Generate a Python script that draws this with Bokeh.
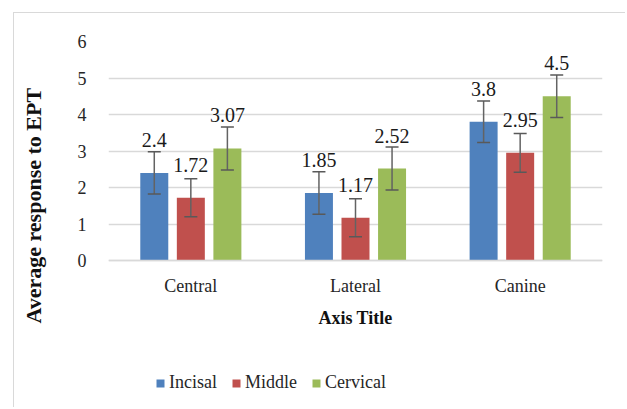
from bokeh.plotting import figure
from bokeh.models import (Range1d, FactorRange, ColumnDataSource, Whisker, Legend,
                          LegendItem, TeeHead, FixedTicker)
from bokeh.transform import dodge
from bokeh.core.properties import value
from bokeh.embed import file_html
from bokeh.resources import INLINE

# ---- data ----
categories = ["Central", "Lateral", "Canine"]
series_names = ["Incisal", "Middle", "Cervical"]
incisal = [2.4, 1.85, 3.8]
middle = [1.72, 1.17, 2.95]
cervical = [3.07, 2.52, 4.5]
incisal_err = [0.58, 0.58, 0.57]
middle_err = [0.52, 0.52, 0.53]
cervical_err = [0.59, 0.59, 0.58]
y_ticks = [0, 1, 2, 3, 4, 5, 6]
y_title = "Average response to EPT"
x_title = "Axis Title"

colors = ["#4F81BD", "#C0504D", "#9BBB59"]
offsets = [-0.222, 0.0, 0.222]
bar_width = 0.17
FONT = "Liberation Serif"

W, H = 612, 395
TOP, PLOT_H = 28, 219          # pixel height of the 0..6 value band
y_max = y_ticks[-1]
below_px = H - TOP - PLOT_H    # room under the value axis for labels and legend
y_min = -y_max * below_px / PLOT_H

p = figure(width=W, height=H, x_range=FactorRange(*categories), y_range=Range1d(y_min, y_max),
           output_backend="svg", toolbar_location=None,
           min_border_left=94, min_border_right=24, min_border_top=TOP, min_border_bottom=0)
p.margin = (12, 0, 0, 13)
p.styles = {"border-left": "1px solid #D9D9D9", "border-top": "1px solid #D9D9D9"}
p.outline_line_color = None
p.background_fill_color = "white"
p.border_fill_color = "white"

series = [(incisal, incisal_err), (middle, middle_err), (cervical, cervical_err)]
items = []
for name, (vals, errs), col, off in zip(series_names, series, colors, offsets):
    src = ColumnDataSource(dict(
        cat=categories, val=vals,
        upper=[v + e for v, e in zip(vals, errs)],
        lower=[v - e for v, e in zip(vals, errs)],
        label=[str(v) for v in vals]))
    r = p.vbar(x=dodge("cat", off, range=p.x_range), top="val", bottom=0, width=bar_width,
               source=src, fill_color=col, line_color=None)
    items.append(LegendItem(label=name, renderers=[r]))
    w = Whisker(base=dodge("cat", off, range=p.x_range), upper="upper", lower="lower",
                source=src, line_color="#636363", line_width=1.5,
                upper_head=TeeHead(size=13, line_color="#595959", line_width=1.5),
                lower_head=TeeHead(size=13, line_color="#595959", line_width=1.5))
    w.level = "annotation"
    p.add_layout(w)
    p.text(x=dodge("cat", off, range=p.x_range), y="val", text="label", source=src,
           text_font=value(FONT), text_font_size="20px", text_color="#1a1a1a",
           text_align="center", text_baseline="alphabetic", y_offset=-33)

# axes
p.yaxis.ticker = FixedTicker(ticks=y_ticks)
p.yaxis.axis_line_color = None
p.yaxis.major_tick_line_color = None
p.yaxis.minor_tick_line_color = None
p.yaxis.major_label_standoff = 16
p.yaxis.major_label_text_font = FONT
p.yaxis.major_label_text_font_size = "18px"
p.yaxis.major_label_text_color = "#262626"
# leading no-break spaces nudge the centred title up, as in the reference
p.yaxis.axis_label = "\u00a0" * 7 + y_title
p.yaxis.axis_label_text_font = FONT
p.yaxis.axis_label_text_font_style = "bold"
p.yaxis.axis_label_text_font_size = "22px"
p.yaxis.axis_label_text_color = "#111111"
p.yaxis.axis_label_standoff = 29

p.xaxis.fixed_location = 0
p.xaxis.axis_line_color = "#D9D9D9"
p.xaxis.axis_line_width = 1.5
p.xaxis.major_tick_line_color = None
p.xaxis.minor_tick_line_color = None
p.xaxis.major_label_standoff = 9
p.xaxis.major_label_text_font = FONT
p.xaxis.major_label_text_font_size = "18px"
p.xaxis.major_label_text_color = "#262626"
p.xaxis.axis_label = x_title
p.xaxis.axis_label_text_font = FONT
p.xaxis.axis_label_text_font_style = "bold"
p.xaxis.axis_label_text_font_size = "18px"
p.xaxis.axis_label_text_color = "#111111"
p.xaxis.axis_label_standoff = 9

p.xgrid.grid_line_color = None
p.ygrid.grid_line_color = "#D9D9D9"
p.ygrid.grid_line_width = 1.5

legend = Legend(items=items, orientation="horizontal", location=(47, 15),
                glyph_width=10, glyph_height=10, label_standoff=4, spacing=14,
                padding=0, margin=0, border_line_color=None, background_fill_alpha=0,
                label_text_font_size="18px", label_text_color="#262626",
                label_height=10)
try:
    legend.label_text_font = value(FONT)
except Exception:
    legend.label_text_font = FONT
p.add_layout(legend, "center")

open("out.html", "w").write(file_html(p, INLINE))
